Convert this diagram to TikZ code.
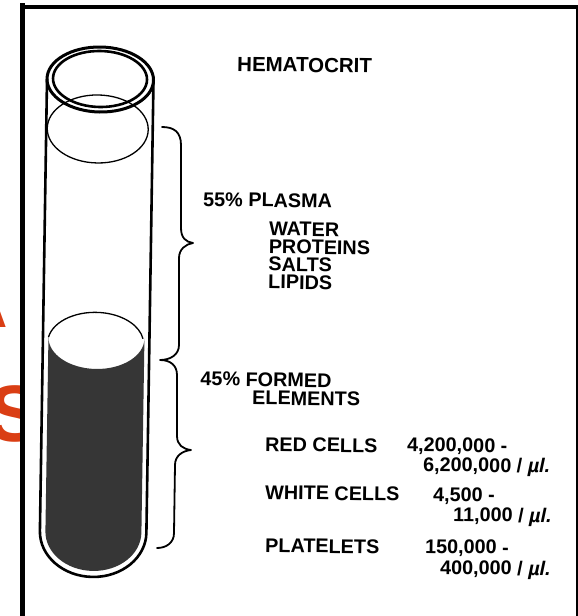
\documentclass[tikz,border=0pt]{standalone}
\usepackage{fontspec}
\setmainfont{Liberation Sans}
\definecolor{slidered}{RGB}{218,62,20}
\definecolor{cellfill}{RGB}{54,54,54}
\begin{document}
\begin{tikzpicture}[x=1pt,y=-1pt,
  txt/.style={inner sep=0pt, rotate=-0.9,
    font=\fontsize{19.8}{17.7}\selectfont\bfseries},
  lbl/.style={txt, anchor=base west, text height=14pt, text depth=1pt},
  block/.style={txt, anchor=south west, align=left},
  titletext/.style={lbl, font=\fontsize{20.5}{24}\selectfont\bfseries},
  glass/.style={line width=2.6pt},
  surface/.style={line width=1.3pt},
  bracket/.style={line width=1.8pt, line cap=round, line join=round},
  redword/.style={anchor=base east, inner sep=0pt, text=slidered,
    font=\fontsize{80}{90}\selectfont\bfseries}]
\useasboundingbox (0,0) rectangle (578,616);
\fill[white] (0,0) rectangle (578,616);

% slide heading, lying behind the framed figure
\node[redword] (wordA) at (8,327) {A};
\node[redword] (wordES) at (42,441) {ES};

% figure background
\fill[white] (20,0) rectangle (578,616);

% test tube, slightly tilted
\begin{scope}[rotate around={-0.9:(100,80)}]
  % packed cells
  \fill[cellfill] (52.5,338) arc[start angle=180, end angle=0, x radius=48, y radius=31]
    -- (148.5,532) arc[start angle=0, end angle=180, x radius=48, y radius=39] -- cycle;
  % meniscus of the cell layer
  \draw[surface] (52.5,338) arc[start angle=190, end angle=350, x radius=48, y radius=31];
  % plasma surface
  \draw[surface] (98.5,129) ellipse[x radius=50.5, y radius=34];
  % glass wall with rounded bottom
  \draw[glass] (47,80) -- (47,532) arc[start angle=180, end angle=0, x radius=53.25, y radius=45] -- (153.5,80);
  % rim
  \draw[line width=3pt] (100.25,79.5) ellipse[x radius=53.25, y radius=32.5];
  \draw[line width=2.6pt] (100,79) ellipse[x radius=47, y radius=28];
\end{scope}

% braces for plasma and formed elements
\draw[bracket] (162,127) .. controls (174,127) and (181,132) .. (181,145) -- (181,228)
  .. controls (181,238) and (186,242) .. (193,243)
  .. controls (186,244) and (179,249) .. (179,258) -- (179,345)
  .. controls (179,355) and (170,360) .. (160,360)
  .. controls (170,360) and (177,365) .. (177,375) -- (177,436)
  .. controls (177,445) and (183,449) .. (191,450)
  .. controls (182,451) and (175,456) .. (175,465) -- (174,533)
  .. controls (174,543) and (166,548) .. (157,548);

% labels
\node[titletext] (title) at (237,71) {HEMATOCRIT};
\node[lbl] (plasma) at (203,206) {55\% PLASMA};
\node[block] (contents) at (268,289) {WATER\\PROTEINS\\SALTS\\LIPIDS};
\node[block, font=\fontsize{19.8}{18}\selectfont\bfseries] (formed) at (200,404)
  {45\% FORMED\\\hspace*{52pt}ELEMENTS};
\node[lbl] (red) at (265,451) {RED CELLS};
\node[lbl] (redA) at (407,451) {4,200,000 -};
\node[lbl] (redB) at (423,471) {6,200,000 / {\itshape µl.}};
\node[lbl] (white) at (265,499) {WHITE CELLS};
\node[lbl] (whiteA) at (433,501) {4,500 -};
\node[lbl] (whiteB) at (453,521) {11,000 / {\itshape µl.}};
\node[lbl] (plt) at (265,552) {PLATELETS};
\node[lbl] (pltA) at (425,553) {150,000 -};
\node[lbl] (pltB) at (440,574) {400,000 / {\itshape µl.}};

% frame
\draw[line width=5pt] (22.5,3) -- (22.5,616);
\draw[line width=4pt] (20,7) -- (578,7);
\draw[line width=2pt] (577,5) -- (577,616);
\end{tikzpicture}
\end{document}
